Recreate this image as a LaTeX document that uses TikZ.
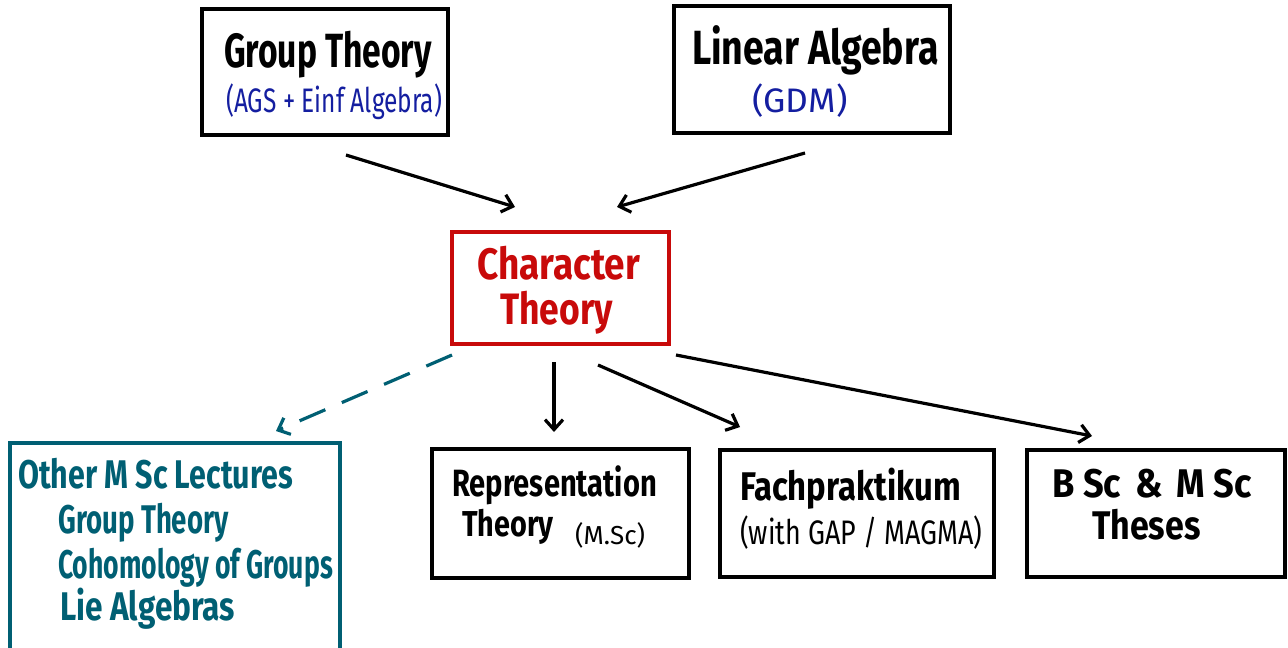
\documentclass[tikz,border=0pt]{standalone}
\usepackage{graphicx}
\usepackage{fontspec}
\setmainfont{Fira Sans}
\usetikzlibrary{arrows.meta}
\definecolor{inkblue}{RGB}{20,30,160}
\definecolor{inkred}{RGB}{200,10,10}
\definecolor{inkteal}{RGB}{0,95,115}
\newcommand\hwsx[2]{\scalebox{#1}[1]{#2}}
\begin{document}
\begin{tikzpicture}[x=1pt,y=-1pt,
  box/.style={draw=black,line width=3.2pt,inner sep=0pt},
  txt/.style={inner sep=0pt,anchor=base west},
  arr/.style={line width=3.2pt,-{Straight Barb[length=10pt,width=18pt]}},
  big/.style={font=\fontsize{48}{48}\selectfont\bfseries},
  red/.style={font=\fontsize{44}{44}\selectfont\bfseries,text=inkred},
  mid/.style={font=\fontsize{40}{40}\selectfont\bfseries},
  small/.style={font=\fontsize{34}{34}\selectfont}]
\useasboundingbox (0,0) rectangle (1288,648);
% boxes
\draw[box] (202,9) rectangle (448,135);
\draw[box] (674,6) rectangle (950,133);
\draw[box,draw=inkred] (452,232) rectangle (669,344);
\draw[box,draw=inkteal] (340,660) -- (340,443) -- (10,443) -- (10,660);
\draw[box] (432,449) rectangle (689,578);
\draw[box] (720,450) rectangle (994,577);
\draw[box] (1027,450) rectangle (1285,577);
% texts
\node[txt,big] (gt) at (224,67) {\hwsx{0.70}{Group Theory}};
\node[txt,small,text=inkblue] (gts) at (226,112) {\hwsx{0.72}{(AGS + Einf Algebra)}};
\node[txt,big] (la) at (692,64) {\hwsx{0.78}{Linear Algebra}};
\node[txt,small,text=inkblue] (las) at (752,112) {\hwsx{1.04}{(GDM)}};
\node[txt,red] (ct1) at (477,279) {\hwsx{0.84}{Character}};
\node[txt,red] (ct2) at (500,324) {\hwsx{0.807}{Theory}};
\node[txt,mid,text=inkteal] (o1) at (18,488) {\hwsx{0.76}{Other M Sc Lectures}};
\node[txt,mid,text=inkteal] (o2) at (58,533) {\hwsx{0.69}{Group Theory}};
\node[txt,mid,text=inkteal] (o3) at (58,578) {\hwsx{0.664}{Cohomology of Groups}};
\node[txt,mid,text=inkteal] (o4) at (60,620) {\hwsx{0.79}{Lie Algebras}};
\node[txt,font=\fontsize{38}{38}\selectfont\bfseries] (rt1) at (452,496) {\hwsx{0.765}{Representation}};
\node[txt,font=\fontsize{36}{36}\selectfont\bfseries] (rt2) at (462,536) {\hwsx{0.80}{Theory}};
\node[txt,font=\fontsize{26}{26}\selectfont] (rt3) at (575,544) {(M.Sc)};
\node[txt,mid] (fp1) at (740,500) {\hwsx{0.82}{Fachpraktikum}};
\node[txt,small] (fp2) at (740,544) {\hwsx{0.79}{(with GAP / MAGMA)}};
\node[txt,mid] (th1) at (1052,497) {\hwsx{0.906}{B Sc \hspace{6pt}\& \hspace{6pt}M Sc}};
\node[txt,mid] (th2) at (1092,539) {\hwsx{0.85}{Theses}};
% connector ends
\coordinate (a1) at (346,155); \coordinate (b1) at (515,207);
\coordinate (a2) at (805,153); \coordinate (b2) at (617,207);
\coordinate (a3) at (452,355); \coordinate (b3) at (276,431);
\coordinate (a4) at (554,362); \coordinate (b4) at (554,432);
\coordinate (a5) at (598,365); \coordinate (b5) at (740,427);
\coordinate (a6) at (676,355); \coordinate (b6) at (1092,436);
\draw[arr] (a1) -- (b1);
\draw[arr] (a2) -- (b2);
\draw[arr,draw=inkteal,dash pattern=on 28pt off 18pt] (a3) -- (b3);
\draw[arr] (a4) -- (b4);
\draw[arr] (a5) -- (b5);
\draw[arr] (a6) -- (b6);
\end{tikzpicture}
\end{document}
